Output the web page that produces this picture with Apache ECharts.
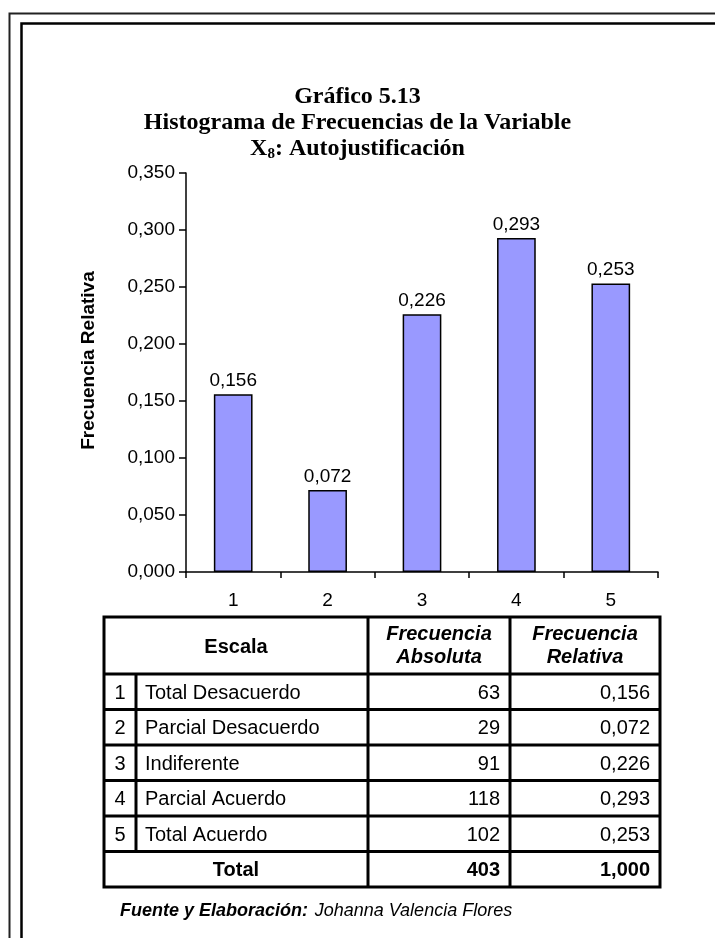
<!DOCTYPE html>
<html><head><meta charset="utf-8">
<script src="https://cdn.jsdelivr.net/npm/echarts@6/dist/echarts.min.js"></script>
<style>html,body{margin:0;padding:0;background:#fff}#c{width:715px;height:938px}</style>
</head><body><div id="c"></div>
<script>
const categories = ['1', '2', '3', '4', '5'];
const relFreq = [0.156, 0.072, 0.226, 0.293, 0.253];
const scaleNames = ['Total Desacuerdo', 'Parcial Desacuerdo', 'Indiferente', 'Parcial Acuerdo', 'Total Acuerdo'];
const absFreq = [63, 29, 91, 118, 102];
const totalAbs = 403;
const totalRel = '1,000';
const yTicks = [0, 0.05, 0.1, 0.15, 0.2, 0.25, 0.3, 0.35];

const fmt = v => v.toFixed(3).replace('.', ',');
const chart = echarts.init(document.getElementById('c'));

const FONT = 'Liberation Sans, Arial, sans-serif';
const SERIF = 'Liberation Serif, Times New Roman, serif';

// table layout
const tx = [104, 136, 368, 510, 660];
const tTop = 617, hBot = 674, rowH = 35.5;
const g = [];
// frames
g.push({type:'rect', shape:{x:9.5,y:13.5,width:760,height:1000}, style:{fill:'none',stroke:'#222',lineWidth:2}});
g.push({type:'rect', shape:{x:21.5,y:23.5,width:760,height:1000}, style:{fill:'none',stroke:'#000',lineWidth:2.5}});
const nRows = scaleNames.length;
const tBot = hBot + rowH * (nRows + 1);
const LW = 3;
function line(x1,y1,x2,y2){ g.push({type:'line', z:3, shape:{x1,y1,x2,y2}, style:{stroke:'#000', lineWidth:LW}}); }
// outer table box
g.push({type:'rect', z:3, shape:{x:tx[0], y:tTop, width:tx[4]-tx[0], height:tBot-tTop}, style:{fill:'none', stroke:'#000', lineWidth:LW}});
line(tx[0], hBot, tx[4], hBot);
for (let i = 1; i <= nRows; i++) line(tx[0], hBot + rowH*i, tx[4], hBot + rowH*i);
line(tx[1], hBot, tx[1], hBot + rowH*nRows);
line(tx[2], tTop, tx[2], tBot);
line(tx[3], tTop, tx[3], tBot);
function txt(x, y, text, align, font){
  g.push({type:'text', x, y, z:5, style:{text, x:0, y:0, align, verticalAlign:'middle', font, fill:'#000'}});
}
const TF = '20px ' + FONT;
const hMid = (tTop + hBot)/2;
txt((tx[0]+tx[2])/2, hMid+2, 'Escala', 'center', 'bold ' + TF);
txt((tx[2]+tx[3])/2, hMid-11, 'Frecuencia', 'center', 'italic bold ' + TF);
txt((tx[2]+tx[3])/2, hMid+12, 'Absoluta', 'center', 'italic bold ' + TF);
txt((tx[3]+tx[4])/2, hMid-11, 'Frecuencia', 'center', 'italic bold ' + TF);
txt((tx[3]+tx[4])/2, hMid+12, 'Relativa', 'center', 'italic bold ' + TF);
for (let i = 0; i < nRows; i++) {
  const y = hBot + rowH*i + rowH/2 + 1.5;
  txt((tx[0]+tx[1])/2, y, categories[i], 'center', TF);
  txt(tx[1]+9, y, scaleNames[i], 'left', TF);
  txt(tx[3]-10, y, String(absFreq[i]), 'right', TF);
  txt(tx[4]-10, y, fmt(relFreq[i]), 'right', TF);
}
const yT = hBot + rowH*nRows + rowH/2 + 1.5;
txt((tx[0]+tx[2])/2, yT, 'Total', 'center', 'bold ' + TF);
txt(tx[3]-10, yT, String(totalAbs), 'right', 'bold ' + TF);
txt(tx[4]-10, yT, totalRel, 'right', 'bold ' + TF);
// footer
g.push({type:'text', x:120, y:911, z:5, style:{
  text:'{b|Fuente y Elaboración:}  {n|Johanna Valencia Flores}', x:0, y:0, verticalAlign:'middle',
  rich:{b:{font:'italic bold 18px ' + FONT, fill:'#000'}, n:{font:'italic 18px ' + FONT, fill:'#000'}}
}});

chart.setOption({
  animation: false,
  backgroundColor: '#fff',
  title: {
    text: 'Gráfico 5.13\nHistograma de Frecuencias de la Variable\n{x|X}{s|8}{x|: Autojustificación}',
    left: 'center', top: 79,
    textStyle: {
      fontFamily: SERIF, fontWeight: 'bold', fontSize: 24, color: '#000', lineHeight: 26,
      rich: {
        x: {fontFamily: SERIF, fontWeight: 'bold', fontSize: 24, color: '#000', lineHeight: 26},
        s: {fontFamily: SERIF, fontWeight: 'bold', fontSize: 15, color: '#000', verticalAlign: 'bottom', padding: [9,0,0,0], lineHeight: 26}
      }
    }
  },
  grid: {left: 186, right: 57, top: 173, bottom: 366, containLabel: false},
  xAxis: {
    type: 'category', data: categories,
    axisLine: {lineStyle: {color: '#000', width: 1.5}},
    axisTick: {show: true, length: 6, inside: false, lineStyle: {color: '#000', width: 1.5}},
    axisLabel: {color: '#000', fontFamily: FONT, fontSize: 19, margin: 19}
  },
  yAxis: {
    type: 'value', min: 0, max: 0.35, interval: 0.05,
    name: 'Frecuencia Relativa', nameLocation: 'middle', nameGap: 88, nameRotate: 90,
    nameTextStyle: {fontFamily: FONT, fontWeight: 'bold', fontSize: 19, color: '#000', padding: [0, 0, 0, 24]},
    axisLine: {show: true, lineStyle: {color: '#000', width: 1.5}},
    axisTick: {show: true, length: 7, inside: false, lineStyle: {color: '#000', width: 1.5}},
    splitLine: {show: false},
    axisLabel: {color: '#000', fontFamily: FONT, fontSize: 19, margin: 11, formatter: v => fmt(v)}
  },
  series: [{
    type: 'bar', data: relFreq, barWidth: '41%',
    itemStyle: {color: '#9999FF', borderColor: '#000', borderWidth: 1.5},
    label: {show: true, position: 'top', distance: 4, color: '#000', fontFamily: FONT, fontSize: 19, formatter: p => fmt(p.value)}
  }],
  graphic: g
});
</script></body></html>
